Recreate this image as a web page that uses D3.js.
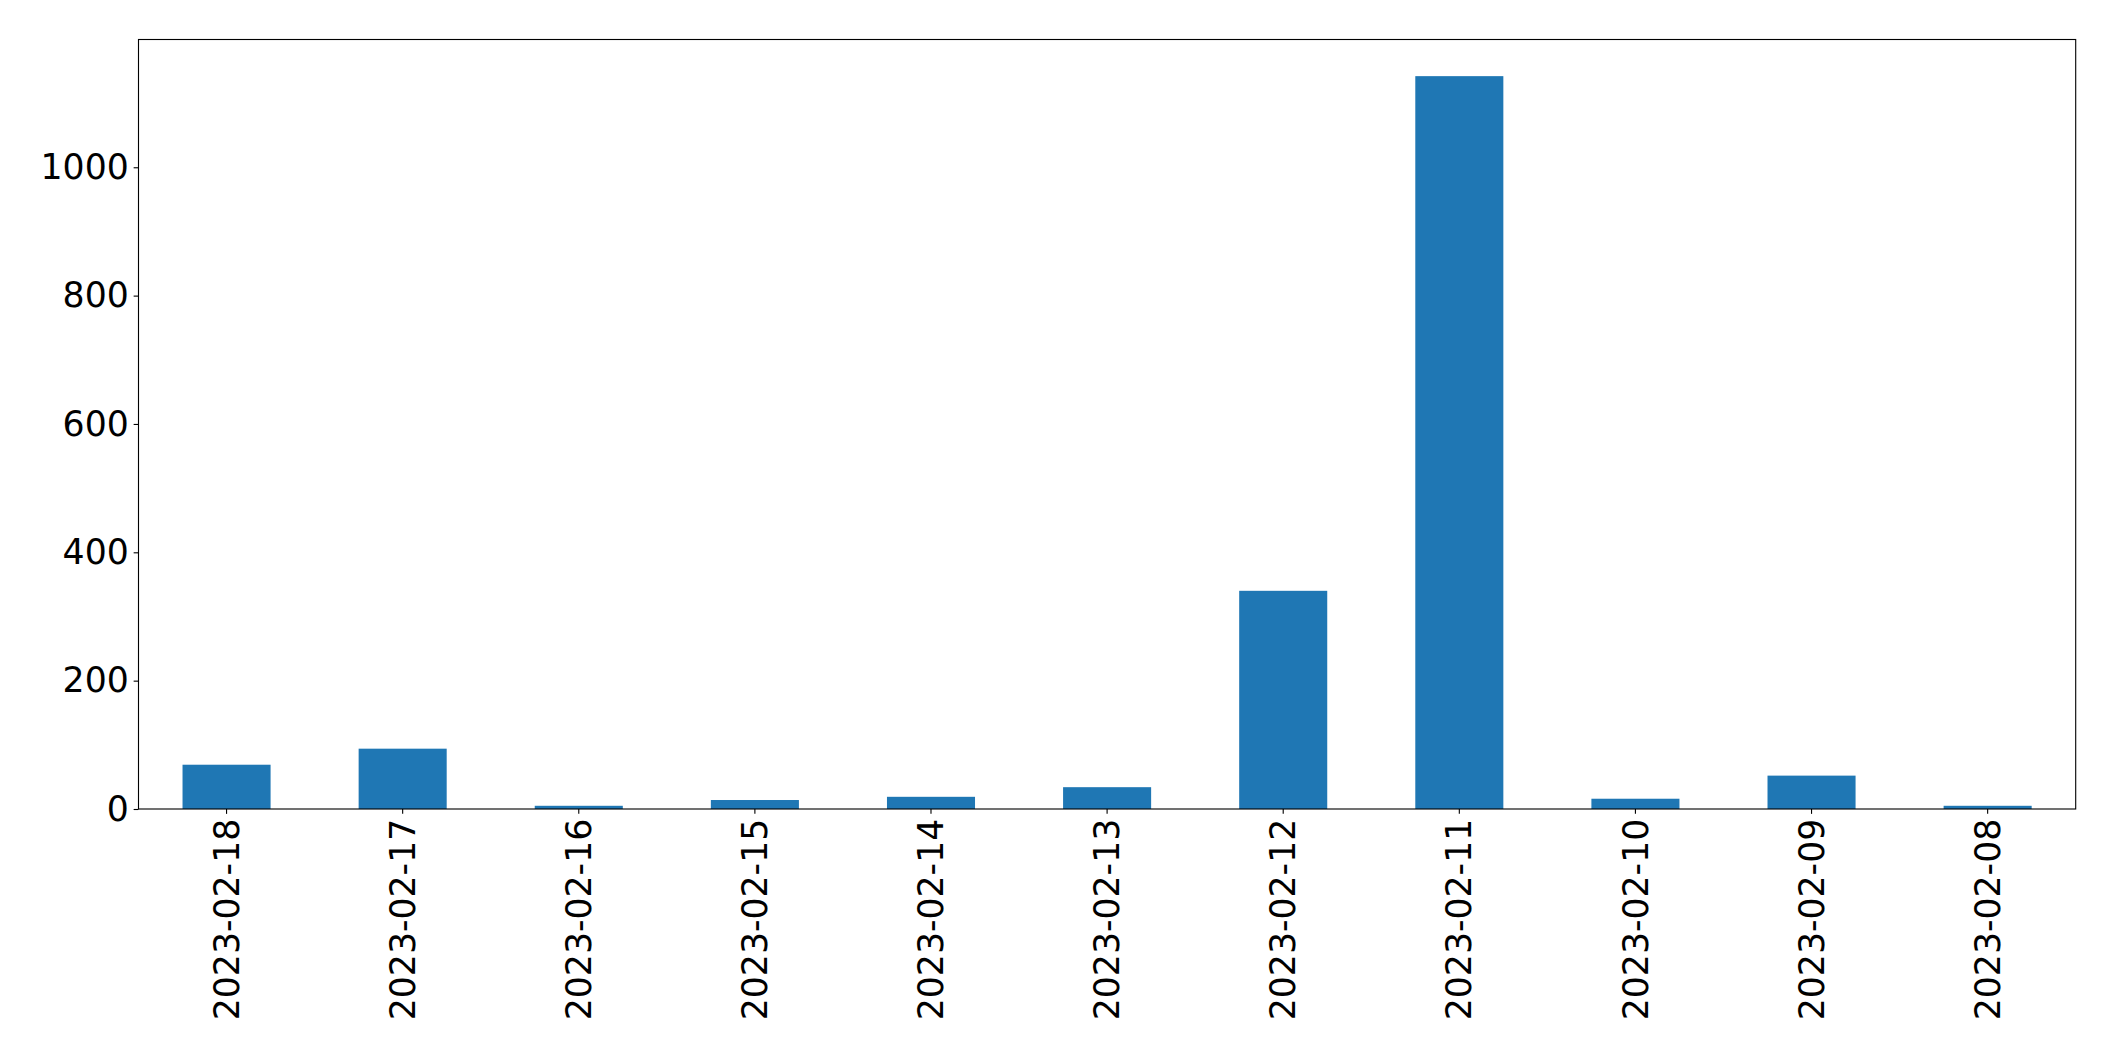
<!DOCTYPE html>
<html>
<head>
<meta charset="utf-8">
<script src="https://cdn.jsdelivr.net/npm/d3@7"></script>
<style>
  html, body { margin: 0; padding: 0; background: #fff; }
  svg { display: block; }
  text { font-family: "DejaVu Sans", sans-serif; fill: #000; }
</style>
</head>
<body>
<svg id="chart" width="2115" height="1061"></svg>
<script>
const categories = ["2023-02-18","2023-02-17","2023-02-16","2023-02-15","2023-02-14","2023-02-13","2023-02-12","2023-02-11","2023-02-10","2023-02-09","2023-02-08"];
const values = [69, 94, 5, 14, 19, 34, 340, 1142, 16, 52, 5];
const yTicks = [0, 200, 400, 600, 800, 1000];

const svg = d3.select("#chart");
const margin = {left: 138.5, right: 2115 - 2075.7, top: 39.5, bottom: 1061 - 809};
const W = 2115 - margin.left - margin.right;
const H = 1061 - margin.top - margin.bottom;
const fontSize = 34.7;
const tickLen = 4.86, tickPad = 4.86;

const g = svg.append("g").attr("transform", `translate(${margin.left},${margin.top})`);

const x = d3.scaleBand().domain(categories).range([0, W]).paddingInner(0.5).paddingOuter(0.25);
const yMax = d3.max(values) * 1.05;
const y = d3.scaleLinear().domain([0, yMax]).range([H, 0]);

g.selectAll("rect.bar").data(values).enter().append("rect")
  .attr("class", "bar")
  .attr("x", (d, i) => x(categories[i]))
  .attr("width", x.bandwidth())
  .attr("y", d => y(d))
  .attr("height", d => H - y(d))
  .attr("fill", "#1f77b4");

// Y axis
const yAxis = d3.axisLeft(y).tickValues(yTicks).tickSize(tickLen).tickPadding(tickPad).tickFormat(d3.format("d"));
const ya = g.append("g").call(yAxis);
ya.select(".domain").remove();
ya.selectAll(".tick line").attr("stroke", "#000").attr("stroke-width", 1.11);
ya.selectAll(".tick text").style("font-size", fontSize + "px").attr("fill", "#000");

// X axis
const xAxis = d3.axisBottom(x).tickSize(tickLen).tickPadding(tickPad);
const xa = g.append("g").attr("transform", `translate(0,${H})`).call(xAxis);
xa.select(".domain").remove();
xa.selectAll(".tick line").attr("stroke", "#000").attr("stroke-width", 1.11);
xa.selectAll(".tick text")
  .style("font-size", fontSize + "px")
  .attr("fill", "#000")
  .attr("transform", "rotate(-90)")
  .attr("x", -(tickLen + tickPad))
  .attr("y", 0)
  .attr("dy", "0.35em")
  .attr("text-anchor", "end");

// Frame (spines)
g.append("rect")
  .attr("x", 0).attr("y", 0).attr("width", W).attr("height", H)
  .attr("fill", "none").attr("stroke", "#000").attr("stroke-width", 1.11);
</script>
</body>
</html>
